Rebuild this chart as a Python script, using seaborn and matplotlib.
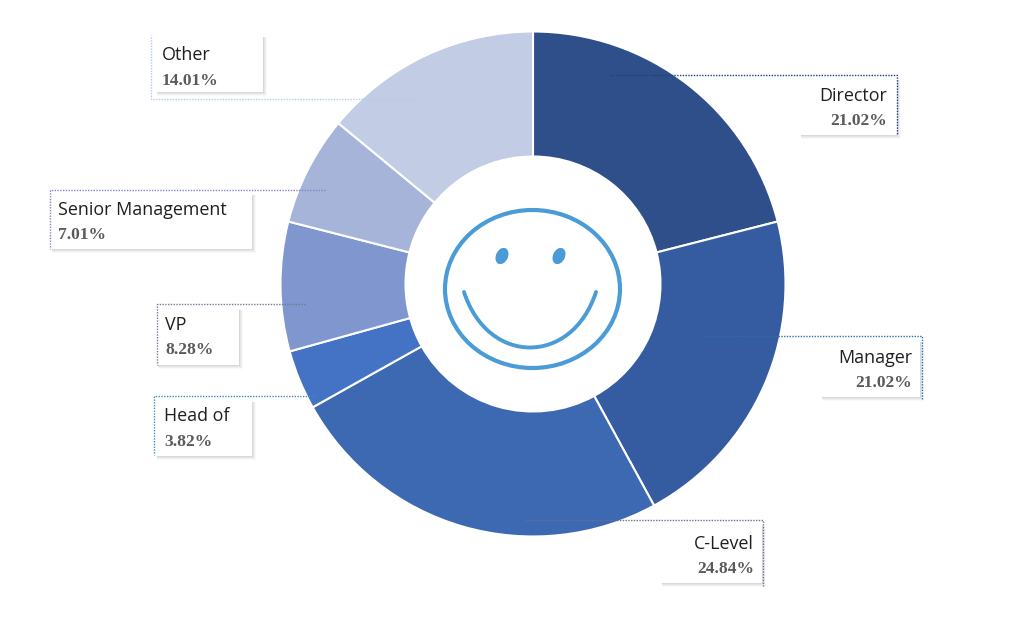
import numpy as np
import seaborn as sns
from matplotlib import pyplot as plt
from matplotlib.patches import Ellipse, PathPatch, Rectangle
from matplotlib.path import Path

# chart values
categories = ['Director', 'Manager', 'C-Level', 'Head of', 'VP', 'Senior Management', 'Other']
shares = [21.02, 21.02, 24.84, 3.82, 8.28, 7.01, 14.01]
slice_colors = ['#2F4F8B', '#355CA0', '#3D68B2', '#4472C4', '#7F96CF', '#A6B4DA', '#C2CCE5']

# label boxes in image pixels: left, right, top, bottom
boxes = [(801, 897, 80, 135), (822, 920, 342, 397), (662, 762, 526, 583), (157, 252, 402, 456),
         (158, 239, 310, 365), (52, 252, 195, 249), (157, 263, 37, 92)]
# dotted leader: line end x, line y, corner x, corner end y
leaders = [(610, 75, 897, 135), (703, 336, 922, 400), (525, 520, 763, 586), (315, 396, 154, 455),
           (305, 304, 157, 365), (325, 190, 50, 249), (418, 99, 151, 35)]
leader_colors = ['#1F3F7A', '#2F6FA8', '#6A6F95', '#3F8FB8', '#6F7C90', '#7F86C8', '#B5C8EE']
text_x = [887, 912, 754, 164, 165, 58, 162]
name_y = [96, 358, 544, 416, 325, 210, 55]
value_y = [121, 383, 569, 442, 350, 235, 81]
right_aligned = [True, True, True, False, False, False, False]

FIG_H = 632


def flip(y):
    """Image pixel y to axes y."""
    return FIG_H - y


sns.set_theme(style='white')
plt.rcParams['font.family'] = ['Open Sans', 'DejaVu Sans']

fig = plt.figure(figsize=(10.24, 6.32), dpi=100, facecolor='white')
ax = fig.add_axes([0, 0, 1, 1])

ax.pie(shares, colors=slice_colors, startangle=90, counterclock=False,
       center=(533, flip(284)), radius=252.5,
       wedgeprops={'width': 125, 'edgecolor': 'white', 'linewidth': 1.5})
ax.set_xlim(0, 1024)
ax.set_ylim(0, FIG_H)
ax.set_aspect('equal')
ax.axis('off')

# labels with soft shadow and dotted leader
for i, name in enumerate(categories):
    left, right, top, bottom = boxes[i]
    for grow, alpha in [(4, 0.04), (3, 0.06), (2, 0.08), (1, 0.10)]:
        ax.add_patch(Rectangle((left, flip(bottom + grow)), right - left + grow,
                               bottom - top + grow, fc='#707070', ec='none', alpha=alpha, zorder=3))
    ax.add_patch(Rectangle((left, flip(bottom)), right - left, bottom - top, fc='white', ec='none', zorder=4))

    end_x, line_y, corner_x, corner_y = leaders[i]
    ax.plot([end_x, corner_x, corner_x], [flip(line_y), flip(line_y), flip(corner_y)],
            color=leader_colors[i], lw=1.0, ls=(0, (1, 1)), zorder=5)

    ha = 'right' if right_aligned[i] else 'left'
    ax.text(text_x[i], flip(name_y[i]), name, ha=ha, va='center', fontsize=12.9,
            color='#1F1F1F', zorder=6)
    ax.text(text_x[i], flip(value_y[i]), f'{shares[i]:.2f}%', ha=ha, va='center', fontsize=12.6,
            family='Liberation Serif', fontweight='bold', color='#5A5A5A', zorder=6)

# smiley in the hole
smile_color = '#4A9BD6'
ax.add_patch(Ellipse((532.5, flip(289)), 175, 158, fc='none', ec=smile_color, lw=3.0, zorder=3))
for eye_x in [502, 559]:
    ax.add_patch(Ellipse((eye_x, flip(256)), 12, 17, angle=-25, fc=smile_color, ec='none', zorder=3))
mouth = Path([(464, flip(292)), (488, flip(366)), (572, flip(366)), (596, flip(292))],
             [Path.MOVETO, Path.CURVE4, Path.CURVE4, Path.CURVE4])
ax.add_patch(PathPatch(mouth, fc='none', ec=smile_color, lw=2.8, capstyle='round', zorder=3))

fig.savefig('out.png', dpi=100, facecolor='white')
